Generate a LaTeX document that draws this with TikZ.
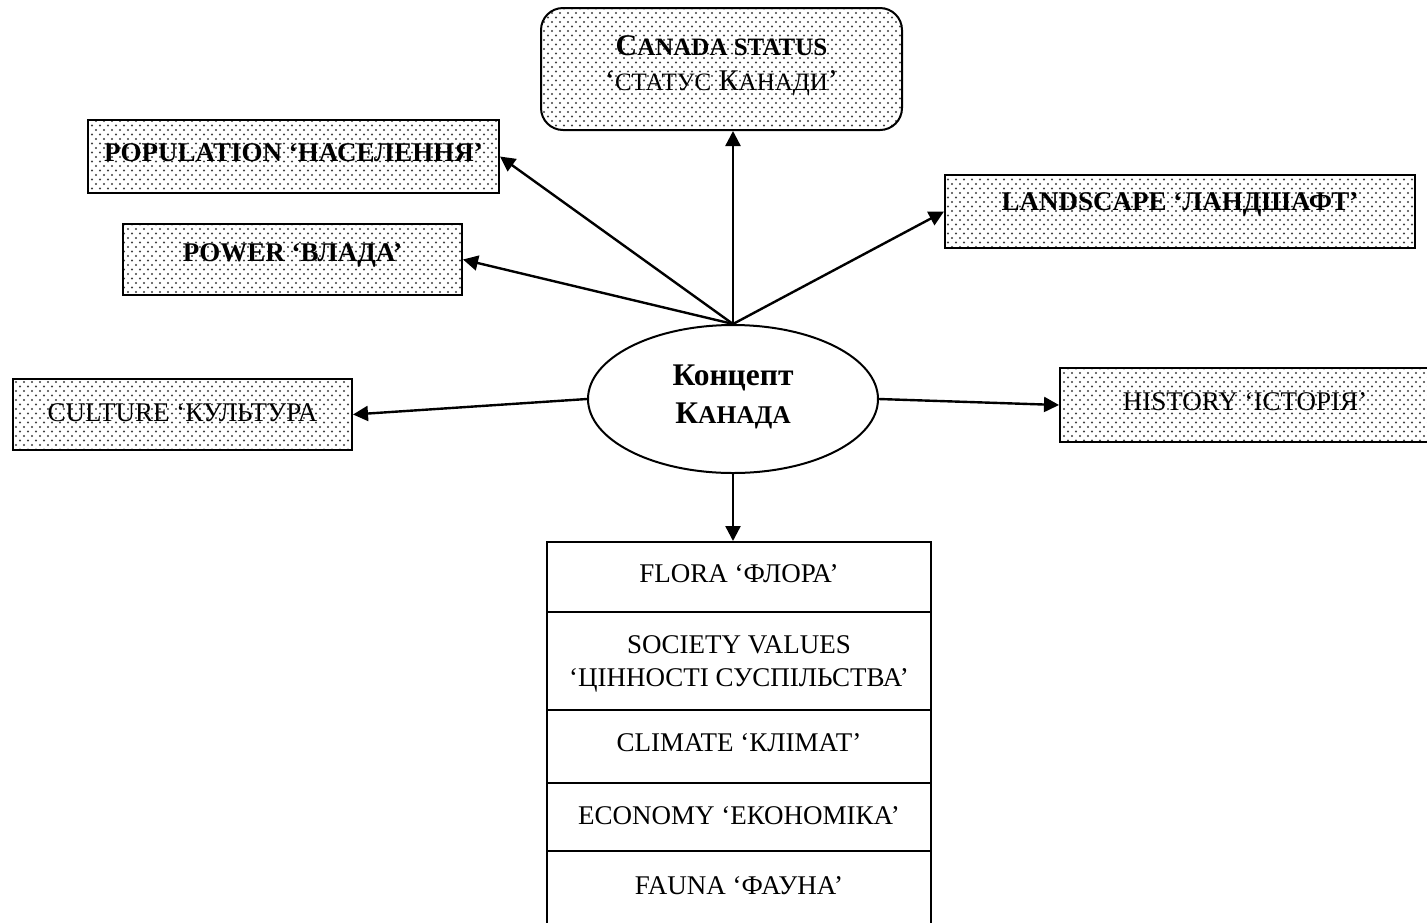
\documentclass[tikz,border=0pt]{standalone}
\usepackage{fontspec}
\setmainfont{Liberation Serif}
\usetikzlibrary{arrows.meta,shapes.geometric,patterns.meta}
\newcommand\fsc[1]{{\fontsize{25}{28}\selectfont #1}}
\newcommand\fscb[1]{{\fontsize{25.5}{28}\selectfont #1}}
\newcommand\up[2]{\raisebox{#1}[\height][\depth]{#2}}
\tikzdeclarepattern{
  name=mydots,
  type=uncolored,
  bottom left={(-1.5pt,-1.5pt)},
  top right={(6.5pt,7.5pt)},
  tile size={(8pt,9pt)},
  code={\fill (0pt,0pt) circle (1.1pt); \fill (4pt,4.5pt) circle (1.1pt);}
}
\begin{document}
\begin{tikzpicture}[x=1pt,y=-1pt,
  base/.style={draw=black, line width=2pt, inner sep=0pt, align=center,
    font=\fontsize{27}{30}\selectfont},
  dotbox/.style={base, pattern={mydots}, pattern color=black!75},
  whitebox/.style={base, fill=white, minimum width=384pt},
  arr/.style={line width=2.4pt, -{Triangle[length=15pt,width=15pt]}}]
\useasboundingbox (0,0) rectangle (1427,922);

% central concept
\node[base, ellipse, minimum width=290pt, minimum height=148pt,
  font=\fontsize{31.5}{38}\selectfont\bfseries] (e) at (733,399)
  {\up{2pt}{Концепт}\\\up{2pt}{К\fscb{АНАДА}}};

% dotted boxes
\node[dotbox, rounded corners=22pt, minimum width=361pt, minimum height=122pt,
  font=\fontsize{30}{35}\selectfont] (cs) at (721.5,69)
  {\up{3pt}{\bfseries C\fsc{\bfseries ANADA STATUS}}\\\up{3pt}{‘\fsc{СТАТУС} К\fsc{АНАДИ}’}};
\node[dotbox, minimum width=411pt, minimum height=73pt, font=\fontsize{27}{30}\selectfont\bfseries]
  (pop) at (293.5,156.5) {\up{4pt}{POPULATION ‘НАСЕЛЕННЯ’}};
\node[dotbox, minimum width=339pt, minimum height=71pt, font=\fontsize{27}{30}\selectfont\bfseries]
  (pow) at (292.5,259.5) {\up{4pt}{POWER ‘ВЛАДА’}};
\node[dotbox, minimum width=470pt, minimum height=73pt, font=\fontsize{27}{30}\selectfont\bfseries]
  (land) at (1180,211.5) {\up{7pt}{LANDSCAPE ‘ЛАНДШАФТ’}};
\node[dotbox, minimum width=339pt, minimum height=71pt]
  (cul) at (182.5,414.5) {\up{2pt}{CULTURE ‘КУЛЬТУРА}};
\node[dotbox, minimum width=370pt, minimum height=74pt]
  (hist) at (1245,405) {\up{3pt}{HISTORY ‘ІСТОРІЯ’}};

% stacked white boxes
\node[whitebox, minimum height=70pt] (flora) at (739,577) {\up{3pt}{FLORA ‘ФЛОРА’}};
\node[whitebox, minimum height=98pt, font=\fontsize{27}{33}\selectfont] (soc) at (739,661)
  {\up{-3pt}{SOCIETY VALUES}\\\up{-3pt}{‘ЦІННОСТІ СУСПІЛЬСТВА’}};
\node[whitebox, minimum height=73pt] (clim) at (739,746.5) {\up{4pt}{CLIMATE ‘КЛІМАТ’}};
\node[whitebox, minimum height=68pt] (eco) at (739,817) {\up{1pt}{ECONOMY ‘ЕКОНОМІКА’}};
\node[whitebox, minimum height=74pt] (fauna) at (739,888) {\up{2pt}{FAUNA ‘ФАУНА’}};

% connectors
\draw[arr] (e.north) -- (e.north |- cs.south);
\draw[arr] (e.north) -- (pop.east);
\draw[arr] (e.north) -- (pow.east);
\draw[arr] (e.north) -- (land.west);
\draw[arr] (e.west) -- (cul.east);
\draw[arr] (e.east) -- (hist.west);
\draw[arr] (e.south) -- (e.south |- flora.north);
\end{tikzpicture}
\end{document}
